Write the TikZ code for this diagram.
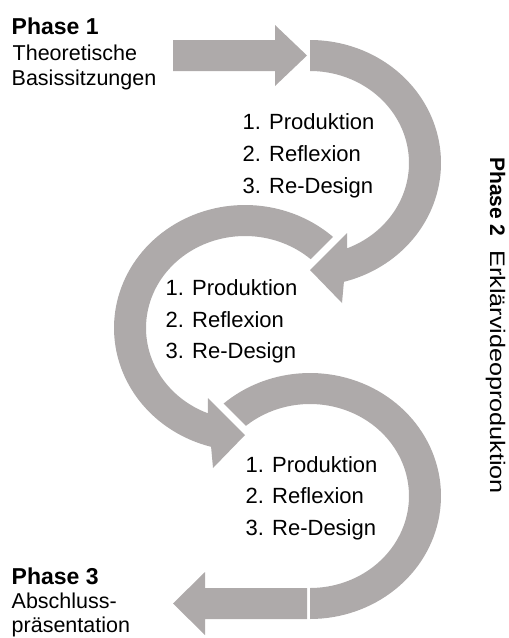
\documentclass[tikz,border=0pt]{standalone}
\usepackage{fontspec}
\setmainfont{Liberation Sans}
\definecolor{arrowgray}{HTML}{AEAAAA}
\begin{document}
\begin{tikzpicture}[x=1pt,y=-1pt,
  blob/.style={fill=arrowgray},
  cutblob/.style={fill=arrowgray, preaction={draw=white, line width=14pt, line join=round}},
  lbl/.style={anchor=base west, inner sep=0pt, font=\fontsize{22}{26}\selectfont},
  phasehead/.style={anchor=base west, inner sep=0pt, font=\bfseries\fontsize{23}{27}\selectfont},
  phasetext/.style={anchor=base west, inner sep=0pt, font=\fontsize{21.5}{25}\selectfont},
  sidetext/.style={anchor=base west, inner sep=0pt, rotate=-90}]
\useasboundingbox (0,0) rectangle (509,638);
% third arc (behind the second arrow head)
\path[blob] plot[domain=-134.5:90,samples=90] ({310+131*cos(\x)},{496+123*sin(\x)})
  -- plot[domain=90:-134.6,samples=90] ({310+99*cos(\x)},{496+92*sin(\x)}) -- cycle;
% bottom straight arrow
\path[blob] (307,588) -- (205,588) -- (205,572) -- (173,603.5) -- (205,635) -- (205,619) -- (307,619) -- cycle;
% second arc
\path[cutblob] plot[domain=315.4:105,samples=90] ({245+131*cos(\x)},{328+123*sin(\x)})
  -- (213,468) -- (245,435) -- (208,398)
  -- plot[domain=112:315.9,samples=90] ({245+99*cos(\x)},{328+92*sin(\x)}) -- cycle;
% first arc
\path[cutblob] plot[domain=-90:75,samples=90] ({310+131*cos(\x)},{163+123*sin(\x)})
  -- (342,303) -- (310,270) -- (347,233)
  -- plot[domain=68:-90,samples=90] ({310+99*cos(\x)},{163+92*sin(\x)}) -- cycle;
% top straight arrow
\path[blob] (173,40) -- (275,40) -- (275,25) -- (307,55.5) -- (275,86) -- (275,71) -- (173,71) -- cycle;
% Phase 1
\node[phasehead] (p1) at (11.5,34.5) {Phase 1};
\node[phasetext] (p1a) at (12.5,60.5) {Theoretische};
\node[phasetext] (p1b) at (11.5,85) {Basissitzungen};
% lists
\node[lbl] (a1) at (242.5,129) {1. Produktion};
\node[lbl] (a2) at (242.5,161) {2. Reflexion};
\node[lbl] (a3) at (242.5,193) {3. Re-Design};
\node[lbl] (b1) at (165.5,295) {1. Produktion};
\node[lbl] (b2) at (165.5,327) {2. Reflexion};
\node[lbl] (b3) at (165.5,358.5) {3. Re-Design};
\node[lbl] (c1) at (245.5,472) {1. Produktion};
\node[lbl] (c2) at (245.5,503.5) {2. Reflexion};
\node[lbl] (c3) at (245.5,535) {3. Re-Design};
% Phase 2
\node[sidetext, font=\bfseries\fontsize{21}{25}\selectfont] (p2) at (490,157) {Phase 2};
\node[sidetext, font=\fontsize{21}{25}\selectfont] (p2a) at (490,250) {\scalebox{1.2}[1]{Erklärvideoproduktion}};
% Phase 3
\node[phasehead] (p3) at (11.5,584) {Phase 3};
\node[phasetext] (p3a) at (11.5,608) {Abschluss-};
\node[phasetext] (p3b) at (11.5,632) {präsentation};
\end{tikzpicture}
\end{document}
